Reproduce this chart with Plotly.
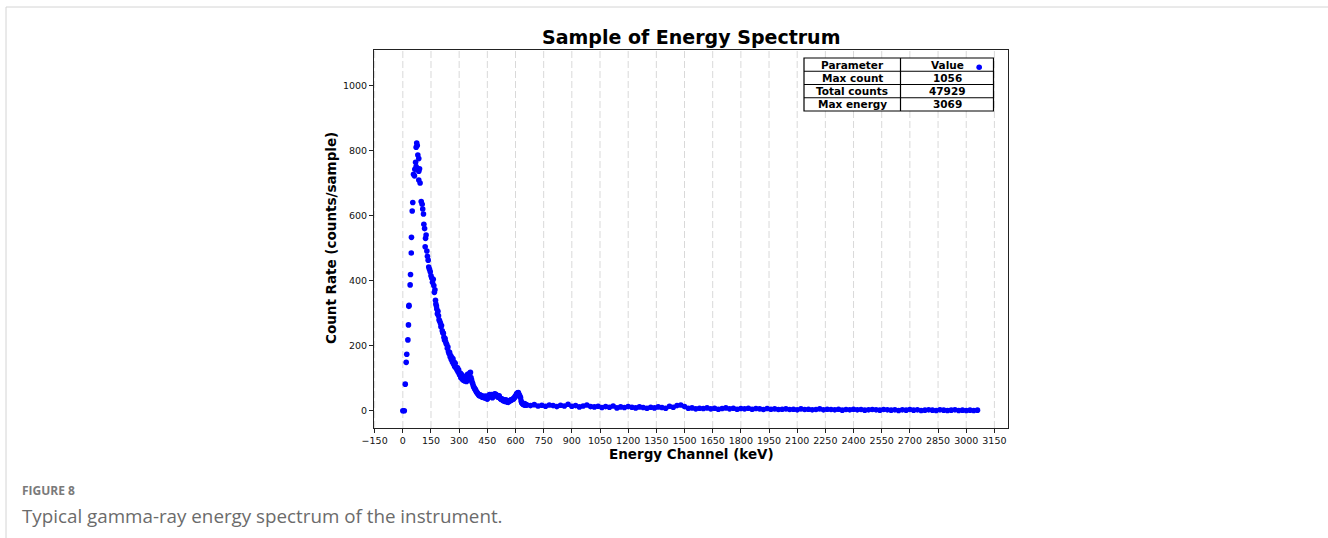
import plotly.graph_objects as go

# ---------------- data ----------------
energy_peak = [0, 8, 13, 18, 21, 27, 30, 32, 33, 39, 41, 45, 46, 50, 53, 57, 62, 64, 68, 71, 71, 74, 77,
               80, 85, 85, 85, 89, 92, 98, 103, 106, 110, 112, 116, 119, 121, 124, 128, 131, 135, 138,
               142, 146, 150, 154, 158, 162, 165, 168, 171, 174, 176, 179, 181, 184, 187, 190, 193, 196,
               200, 203, 206, 210, 213, 216, 219, 222, 225, 228, 231, 234, 237, 240, 243, 246, 249, 252,
               255, 258, 261, 264, 267, 270, 273, 276, 279, 282, 285, 288, 291, 294, 297, 300, 303, 306,
               309, 312, 315, 318, 321, 324, 327, 330, 333, 336, 339, 342, 345, 348, 351, 354, 357, 360,
               363, 366, 369, 372, 375, 378, 381, 384, 387, 390, 393, 396, 399, 402, 405, 408, 411, 414,
               417, 420, 423, 426, 429, 432, 435, 438, 441, 444, 447, 450, 453, 456, 459, 462, 465, 468,
               471, 474, 477, 480, 483, 486, 489, 492, 495, 498, 501, 504, 507, 510, 513, 516, 519, 522,
               525, 528, 531, 534, 537, 540, 543, 546, 549, 552, 555, 558, 561, 564, 567, 570, 573, 576,
               579, 582, 585, 588, 591, 594, 597, 600, 603, 606, 609, 612, 615, 618, 621, 624, 627, 630,
               633, 636, 639, 642, 645, 648, 651, 654, 657]
counts_peak = [0, 0, 82, 149, 174, 218, 264, 321, 324, 387, 419, 485, 533, 614, 640, 727, 722, 742, 764,
               751, 810, 823, 815, 786, 775, 736, 709, 744, 700, 643, 635, 620, 605, 573, 560, 504, 530,
               540, 491, 475, 463, 442, 435, 427, 415, 408, 395, 404, 385, 364, 372, 340, 328, 322, 313,
               298, 306, 292, 280, 276, 270, 258, 262, 246, 240, 238, 226, 218, 222, 212, 206, 204, 192,
               196, 182, 176, 180, 166, 170, 158, 164, 150, 160, 144, 150, 136, 146, 132, 134, 126, 132,
               120, 126, 114, 110, 116, 102, 112, 104, 96, 100, 94, 104, 92, 106, 98, 90, 108, 112, 104,
               110, 96, 116, 118, 102, 95, 88, 84, 77, 73, 70, 66, 65, 60, 58, 55, 53, 51, 48, 46, 49,
               48, 46, 44, 42, 45, 44, 41, 40, 43, 45, 39, 38, 36, 40, 42, 48, 50, 47, 44, 50, 44, 40,
               43, 46, 49, 52, 50, 51, 47, 48, 44, 42, 45, 46, 41, 38, 36, 35, 37, 33, 32, 31, 34, 30,
               29, 34, 31, 28, 27, 26, 29, 30, 31, 32, 34, 33, 35, 36, 36, 38, 40, 43, 45, 48, 52, 54,
               55, 56, 51, 48, 44, 40, 30, 25, 23, 21, 20, 19, 22, 17, 18, 19]

energy_tail = [660, 680, 700, 720, 740, 760, 780, 800, 820, 840, 860, 880, 900, 920, 940, 960, 980, 1000,
               1020, 1040, 1060, 1080, 1100, 1120, 1140, 1160, 1180, 1200, 1220, 1240, 1260, 1280, 1300,
               1320, 1340, 1360, 1380, 1400, 1420, 1440, 1460, 1480, 1500,
               1520, 1540, 1560, 1580, 1600, 1620, 1640, 1660, 1680, 1700, 1720, 1740, 1760, 1780, 1800,
               1820, 1840, 1860, 1880, 1900, 1920, 1940, 1960, 1980, 2000,
               2020, 2040, 2060, 2080, 2100, 2120, 2140, 2160, 2180, 2200, 2220, 2240, 2260, 2280, 2300,
               2320, 2340, 2360, 2380, 2400, 2420, 2440, 2460, 2480, 2500,
               2520, 2540, 2560, 2580, 2600, 2620, 2640, 2660, 2680, 2700, 2720, 2740, 2760, 2780, 2800,
               2820, 2840, 2860, 2880, 2900, 2920, 2940, 2960, 2980, 3000, 3020, 3040, 3060]
counts_tail = [18, 16, 19, 15, 17, 14, 18, 16, 13, 17, 15, 20, 14, 16, 12, 15, 18, 13,
               12, 14, 10, 13, 11, 15, 9, 12, 10, 13, 11, 9, 12, 10, 8, 11, 9, 12, 10, 8, 14, 11, 16, 18, 13,
               8, 9, 6, 8, 7, 9, 6, 8, 5, 7, 9, 6, 8, 5, 7, 6, 8, 5, 7, 6, 4, 7, 5, 6, 4,
               5, 6, 4, 5, 3, 6, 4, 5, 3, 4, 6, 3, 5, 4, 3, 5, 2, 4, 3, 5, 3, 4, 2, 3, 4,
               3, 2, 4, 3, 2, 3, 1, 3, 2, 4, 2, 3, 1, 2, 3, 2, 1, 3, 2, 1, 2, 3, 1, 2, 1, 2, 1, 2]

# the single extreme point (max energy, max count)
energy_max = [3069]
counts_max = [1056]

x_ticks = [-150, 0, 150, 300, 450, 600, 750, 900, 1050, 1200, 1350, 1500, 1650, 1800, 1950, 2100,
           2250, 2400, 2550, 2700, 2850, 3000, 3150]
x_ticktext = [("\u2212" + str(-v)) if v < 0 else str(v) for v in x_ticks]
y_ticks = [0, 200, 400, 600, 800, 1000]

table_rows = [["Parameter", "Value"], ["Max count", "1056"], ["Total counts", "47929"],
              ["Max energy", "3069"]]

# ---------------- figure ----------------
W, H = 1328, 538
L, R, T, B = 374, 320, 50, 110
PW, PH = W - L - R, H - T - B


def px(x):
    return (x - L) / PW


def py(y):
    return (H - B - y) / PH


energy = energy_peak + energy_tail + energy_max
counts = counts_peak + counts_tail + counts_max

fig = go.Figure()
fig.add_trace(go.Scatter(x=energy, y=counts, mode="markers",
                         marker=dict(color="#0000ff", size=5.6, line=dict(width=0)),
                         showlegend=False, hoverinfo="skip"))

font_ticks = dict(family="DejaVu Sans", size=9.5, color="#111111")
fig.update_xaxes(range=[-153.45, 3222.45], tickvals=x_ticks, ticktext=x_ticktext,
                 showgrid=False,
                 ticks="outside", ticklen=4, tickwidth=1, tickcolor="#222",
                 showline=True, mirror=True, linecolor="#222", linewidth=1,
                 zeroline=False, tickfont=font_ticks)
fig.update_yaxes(range=[-52.8, 1108.8], tickvals=y_ticks, showgrid=False,
                 ticks="outside", ticklen=4, tickwidth=1, tickcolor="#222",
                 showline=True, mirror=True, linecolor="#222", linewidth=1,
                 zeroline=False, tickfont=font_ticks)

shapes = []
annotations = []

# dashed vertical grid lines (below the traces)
for v in x_ticks:
    shapes.append(dict(type="line", xref="x", yref="paper", layer="below",
                       x0=v, x1=v, y0=0, y1=1,
                       line=dict(color="#d9d9d9", width=1, dash="7px,3px")))

# table: white cells over the grid, under the markers
tx0, tdiv, tx1 = 804, 900.5, 993.5
ty0, ty1 = 58, 111
rh = (ty1 - ty0) / 4
shapes.append(dict(type="rect", xref="paper", yref="paper", layer="below",
                   x0=px(tx0), x1=px(tx1), y0=py(ty1), y1=py(ty0),
                   fillcolor="white", line=dict(color="black", width=1.2)))
for i in range(1, 4):
    yy = ty0 + i * rh
    shapes.append(dict(type="line", xref="paper", yref="paper", layer="below",
                       x0=px(tx0), x1=px(tx1), y0=py(yy), y1=py(yy),
                       line=dict(color="black", width=1.2)))
shapes.append(dict(type="line", xref="paper", yref="paper", layer="below",
                   x0=px(tdiv), x1=px(tdiv), y0=py(ty0), y1=py(ty1),
                   line=dict(color="black", width=1.2)))
for i, (a, b) in enumerate(table_rows):
    yc = ty0 + (i + 0.5) * rh
    for txt, xc in ((a, (tx0 + tdiv) / 2), (b, (tdiv + tx1) / 2)):
        annotations.append(dict(text="<b>" + txt + "</b>", xref="paper", yref="paper",
                                x=px(xc), y=py(yc), showarrow=False, xanchor="center",
                                yanchor="middle",
                                font=dict(family="DejaVu Sans", size=10.5, color="black")))

# titles
annotations.append(dict(text="<b>Sample of Energy Spectrum</b>", xref="paper", yref="paper",
                        x=px(691), y=py(37), showarrow=False, xanchor="center", yanchor="middle",
                        font=dict(family="DejaVu Sans", size=19, color="black")))
annotations.append(dict(text="<b>Energy Channel (keV)</b>", xref="paper", yref="paper",
                        x=px(691), y=py(454), showarrow=False, xanchor="center", yanchor="middle",
                        font=dict(family="DejaVu Sans", size=13.5, color="black")))
annotations.append(dict(text="<b>Count Rate (counts/sample)</b>", xref="paper", yref="paper",
                        x=px(331), y=py(238), showarrow=False, xanchor="center", yanchor="middle",
                        textangle=-90,
                        font=dict(family="DejaVu Sans", size=13.5, color="black")))

# caption
annotations.append(dict(text="<b>FIGURE 8</b>", xref="paper", yref="paper",
                        x=px(20), y=py(490), showarrow=False, xanchor="left", yanchor="middle",
                        font=dict(family="Open Sans", size=12, color="#7a7a7a")))
annotations.append(dict(text="Typical gamma-ray energy spectrum of the instrument.", xref="paper",
                        yref="paper", x=px(20), y=py(516), showarrow=False, xanchor="left",
                        yanchor="middle",
                        font=dict(family="Open Sans", size=18.8, color="#6b6b6b")))

# page frame lines
shapes.append(dict(type="line", xref="paper", yref="paper", x0=px(6), x1=px(W), y0=py(7), y1=py(7),
                   line=dict(color="#d4d4d4", width=1)))
shapes.append(dict(type="line", xref="paper", yref="paper", x0=px(6), x1=px(6), y0=py(7), y1=py(H),
                   line=dict(color="#d4d4d4", width=1)))

fig.update_layout(width=W, height=H, margin=dict(l=L, r=R, t=T, b=B, autoexpand=False),
                  paper_bgcolor="white", plot_bgcolor="white",
                  shapes=shapes, annotations=annotations, showlegend=False)

fig.write_html("out.html")
